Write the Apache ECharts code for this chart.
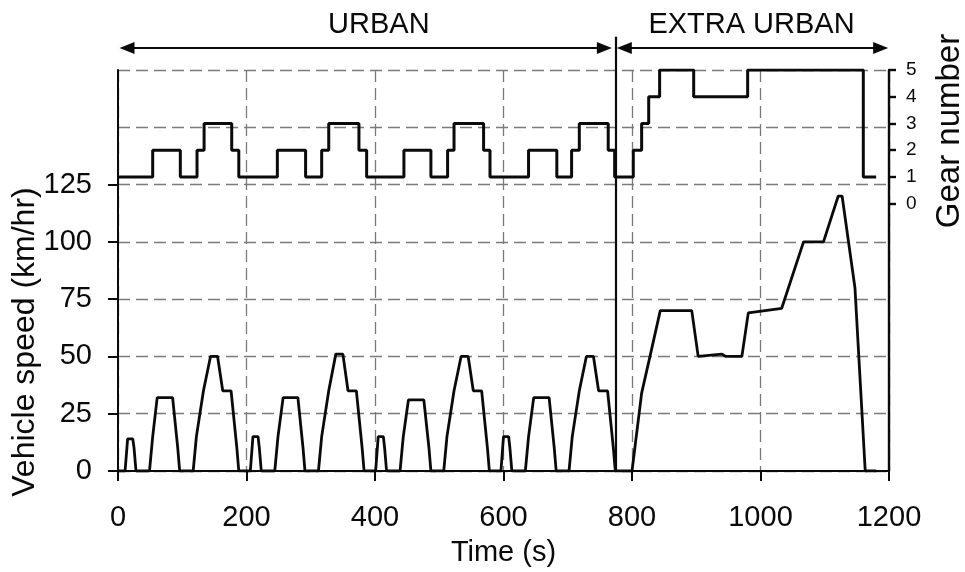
<!DOCTYPE html>
<html>
<head>
<meta charset="utf-8">
<script src="https://cdn.jsdelivr.net/npm/echarts@6/dist/echarts.min.js"></script>
<style>
  html, body { margin: 0; padding: 0; background: #fff; }
  #chart { width: 965px; height: 572px; }
</style>
</head>
<body>
<div id="chart"></div>
<script>
// speed trace (km/h), time in s
const speedTime = [
  0, 11, 15, 23, 25, 28, 49, 54, 56, 61, 85, 93, 96, 117, 122, 124, 133, 135, 144, 155, 163, 176, 185, 188,
  206, 210, 218, 220, 223, 244, 249, 251, 257, 280, 288, 291, 312, 317, 319, 328, 330, 339, 350, 358, 371, 380, 383,
  401, 405, 413, 415, 418, 439, 444, 446, 452, 476, 484, 487, 507, 512, 514, 523, 525, 534, 545, 553, 566, 575, 578,
  596, 600, 608, 610, 613, 634, 639, 641, 647, 671, 679, 682, 702, 707, 709, 718, 720, 729, 740, 748, 762, 771, 774,
  800, 815, 828, 844, 893, 903, 940, 946, 971, 981, 1033, 1067, 1098, 1121, 1127, 1147, 1153, 1163, 1180
];
const speedKmh = [
  0, 0, 14, 14, 10, 0, 0, 15, 15, 32, 32, 10, 0, 0, 15, 15, 35, 35, 50, 50, 35, 35, 10, 0,
  0, 15, 15, 10, 0, 0, 15, 15, 32, 32, 10, 0, 0, 15, 15, 35, 35, 51, 51, 35, 35, 10, 0,
  0, 15, 15, 10, 0, 0, 15, 15, 31, 31, 10, 0, 0, 15, 15, 35, 35, 50, 50, 35, 35, 10, 0,
  0, 15, 15, 10, 0, 0, 15, 15, 32, 32, 10, 0, 0, 15, 15, 35, 35, 50, 50, 35, 35, 10, 0,
  0, 34, 50, 70, 70, 50, 51, 50, 50, 69, 71, 100, 100, 120, 120, 80, 50, 0, 0
];

// gear changes: time of change and the gear engaged from then on
const gearTime = [
  0, 54, 97, 123, 134, 177, 188,
  248, 292, 317, 328, 375, 387,
  445, 487, 513, 523, 569, 579,
  639, 683, 706, 718, 763, 773,
  802, 815, 826, 843, 896, 980, 1160, 1180
];
const gearNumber = [
  1, 2, 1, 2, 3, 2, 1,
  2, 1, 2, 3, 2, 1,
  2, 1, 2, 3, 2, 1,
  2, 1, 2, 3, 2, 1,
  2, 3, 4, 5, 4, 5, 1, 1
];

const speedTicks = [0, 25, 50, 75, 100, 125];
const gearTicks = [0, 1, 2, 3, 4, 5];
const sectionNames = ['URBAN', 'EXTRA URBAN'];

// annotation placement (time axis units) for the top band
const sectionLabelAt = [406, 986];
const urbanArrow = [14, 757];
const extraArrow = [788, 1187];
const splitAt = 774;

const FONT = "'Liberation Sans', Arial, sans-serif";
const ink = '#0a0a0a';
const grey = '#7a7a7a';
const dash = [12, 6];

const chart = echarts.init(document.getElementById('chart'), null, { renderer: 'canvas' });

const option = {
  animation: false,
  backgroundColor: '#fff',
  textStyle: { fontFamily: FONT, color: ink },
  grid: [
    { left: 118, right: 76, top: 70, bottom: 100 },
    { left: 118, right: 76, top: 0, height: 70 }
  ],
  xAxis: [
    {
      type: 'value', gridIndex: 0, min: 0, max: 1200, interval: 200,
      name: 'Time (s)', nameLocation: 'middle', nameGap: 67,
      nameTextStyle: { fontSize: 29, color: ink, fontFamily: FONT },
      axisLine: { lineStyle: { color: ink, width: 2 } },
      axisTick: { length: 10, lineStyle: { color: ink, width: 2 } },
      axisLabel: { fontSize: 29, color: ink, margin: 32, fontFamily: FONT, formatter: v => String(v) },
      splitLine: { show: true, lineStyle: { color: grey, width: 1.3, type: dash } }
    },
    { type: 'value', gridIndex: 1, min: 0, max: 1200, show: false }
  ],
  yAxis: [
    {
      type: 'value', gridIndex: 0, position: 'left', min: 0, max: 175, interval: 25,
      axisLine: { show: true, lineStyle: { color: ink, width: 2 } },
      axisTick: { show: true, length: 10, customValues: speedTicks, lineStyle: { color: ink, width: 2 } },
      axisLabel: { customValues: speedTicks, fontSize: 29, color: ink, margin: 26, fontFamily: FONT },
      splitLine: { show: false }
    },
    {
      type: 'value', gridIndex: 0, position: 'right', min: -10, max: 5, interval: 1,
      axisLine: { show: true, lineStyle: { color: ink, width: 2.4 } },
      axisTick: { show: true, length: 7, customValues: gearTicks, lineStyle: { color: ink, width: 2.4 } },
      axisLabel: { customValues: gearTicks, fontSize: 19, color: ink, margin: 17, fontFamily: FONT },
      splitLine: { show: false }
    },
    {
      // grid lines only
      type: 'value', gridIndex: 0, position: 'left', min: 0, max: 175, interval: 25,
      axisLine: { show: false }, axisTick: { show: false }, axisLabel: { show: false },
      splitLine: { show: true, lineStyle: { color: grey, width: 1.3, type: dash } }
    },
    { type: 'value', gridIndex: 1, min: 0, max: 1, show: false }
  ],
  graphic: [
    {
      type: 'text', x: 25, y: 342, rotation: Math.PI / 2,
      style: { text: 'Vehicle speed (km/hr)', fontSize: 32, fontFamily: FONT, fill: ink,
               align: 'center', verticalAlign: 'middle', textAlign: 'center', textVerticalAlign: 'middle' }
    },
    {
      type: 'text', x: 950, y: 131, rotation: Math.PI / 2,
      style: { text: 'Gear number', fontSize: 33, fontFamily: FONT, fill: ink,
               align: 'center', verticalAlign: 'middle', textAlign: 'center', textVerticalAlign: 'middle' }
    }
  ],
  series: [
    {
      name: 'Speed', type: 'line', xAxisIndex: 0, yAxisIndex: 0,
      data: speedTime.map((t, i) => [t, speedKmh[i]]),
      showSymbol: false, symbol: 'none',
      lineStyle: { color: ink, width: 2.8 },
      z: 5,
      markLine: {
        silent: true, symbol: 'none', label: { show: false },
        lineStyle: { color: ink, width: 2.2, type: 'solid' },
        data: [[{ coord: [splitAt, 0] }, { coord: [splitAt, 175] }]]
      }
    },
    {
      name: 'Gear', type: 'line', xAxisIndex: 0, yAxisIndex: 1, step: 'end',
      data: gearTime.map((t, i) => [t, gearNumber[i]]),
      showSymbol: false, symbol: 'none',
      lineStyle: { color: ink, width: 3 },
      z: 5
    },
    {
      name: 'Sections', type: 'scatter', xAxisIndex: 1, yAxisIndex: 3,
      symbolSize: 1, silent: true,
      itemStyle: { color: 'rgba(0,0,0,0)', opacity: 1 },
      data: sectionNames.map((n, i) => ({ name: n, value: [sectionLabelAt[i], 0.643] })),
      label: {
        show: true, position: 'inside', formatter: '{b}', fontSize: 29,
        color: ink, opacity: 1, textBorderWidth: 0, fontFamily: FONT
      },
      markLine: {
        silent: true, label: { show: false },
        lineStyle: { color: ink, width: 2.2, type: 'solid', opacity: 1 },
        data: [
          [{ coord: [urbanArrow[0], 0.314], symbol: 'triangle', symbolSize: [12, 15] },
           { coord: [urbanArrow[1], 0.314], symbol: 'triangle', symbolSize: [12, 15] }],
          [{ coord: [extraArrow[0], 0.314], symbol: 'triangle', symbolSize: [12, 15] },
           { coord: [extraArrow[1], 0.314], symbol: 'triangle', symbolSize: [12, 15] }],
          [{ coord: [splitAt, 0], symbol: 'none' }, { coord: [splitAt, 0.476], symbol: 'none' }]
        ]
      }
    }
  ]
};

chart.setOption(option);
window.addEventListener('resize', () => chart.resize());
</script>
</body>
</html>
